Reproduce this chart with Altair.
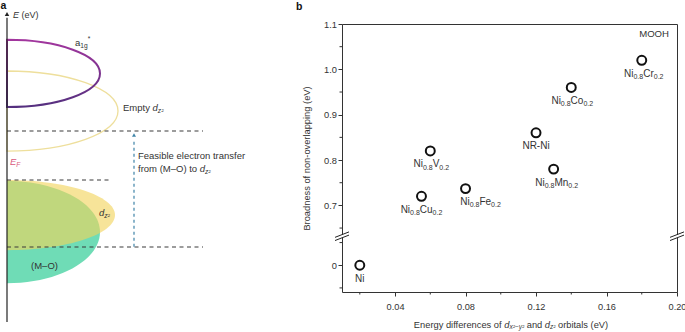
import altair as alt
import pandas as pd

FONT = "Liberation Sans"
TXT = "#333333"

# ---------------- panel b data ----------------
sample_labels = ["Ni", "Ni_{0.8}Cu_{0.2}", "Ni_{0.8}V_{0.2}", "Ni_{0.8}Fe_{0.2}",
                 "NR-Ni", "Ni_{0.8}Mn_{0.2}", "Ni_{0.8}Co_{0.2}", "Ni_{0.8}Cr_{0.2}"]
energy_diff = [0.020, 0.055, 0.060, 0.080, 0.120, 0.130, 0.140, 0.180]
broadness = [0.0, 0.72, 0.82, 0.737, 0.86, 0.78, 0.96, 1.02]
label_shift = [0, 0, 1, 15, 0, 3, 1, 2]

x_ticks = [0.04, 0.08, 0.12, 0.16, 0.20]
x_minor = [0.02, 0.06, 0.10, 0.14, 0.18]
y_ticks_upper = [0.7, 0.8, 0.9, 1.0, 1.1]
y_minor_upper = [0.65, 0.75, 0.85, 0.95, 1.05]
y_ticks_lower = [0.0]
y_minor_lower = [-0.05, 0.05]

XMIN, XMAX = 0.0099, 0.20
YMIN, YMAX = 0.509, 1.1
LOWER_BASE = 0.568   # display position of the lower (broken) segment's zero
BREAK_AT = 0.632
UPPER_START = 0.6

x_title = "Energy differences of $d_{x²−y²}$ and $d_{z²}$ orbitals (eV)"
y_title = "Broadness of non-overlapping (eV)"

# ---------------- panel a data (schematic) ----------------
# x: distance from energy axis (px units), E: energy (arbitrary units)
band_names = ["M–O", "occupied dz2", "empty dz2", "a1g*"]
band_E = [2.92, 3.47, 6.85, 8.07]
band_half_E = [1.66, 1.14, 1.30, 1.09]
band_half_x = [93, 108, 111, 93]

level_E = [6.20, 4.61, 2.435]
level_end = [196, 103, 196]
arrow_x = [127]
arrow_E = [2.44, 6.07]

a_texts = ["a_{1g}^{*}", "Empty $d_{z²}$", "Feasible electron transfer",
           "from (M–O) to $d_{z²}$", "$E_{F}$", "$d_{z²}$", "(M–O)", "$E$ (eV)"]
a_text_x = [68, 116, 131, 131, 3, 92, 37.5, 6]
a_text_E = [9.06, 6.95, 5.39, 4.97, 5.18, 3.54, 1.82, 9.97]

W, H = 335, 268
AX_RANGE = [-335, 0]
AY_RANGE = [298, -10]
A_XDOM = [0, 335]
A_EDOM = [0, 10]
PX_PER_E = (AY_RANGE[0] - AY_RANGE[1]) / (A_EDOM[1] - A_EDOM[0])

# ---------------- rich text helpers ----------------
CW = {' ': 278, '(': 333, ')': 333, '-': 333, '.': 278, '*': 389, '²': 333, '−': 584,
      '–': 556, 'A': 667, 'B': 667, 'C': 722, 'D': 722, 'E': 667, 'F': 611, 'H': 722,
      'M': 833, 'N': 722, 'O': 778, 'R': 722, 'V': 667, 'a': 556, 'b': 556, 'c': 500,
      'd': 556, 'e': 556, 'f': 278, 'g': 556, 'h': 556, 'i': 222, 'l': 222, 'n': 556,
      'o': 556, 'p': 556, 'r': 333, 's': 500, 't': 278, 'u': 556, 'v': 500, 'x': 500,
      'y': 500, 'z': 500, 'm': 833, 'k': 500}


def tw(s, fs):
    return sum(CW.get(c, 556) for c in s) * fs / 1000.0


def parse(s):
    parts, italic, i, buf = [], False, 0, ""
    while i < len(s):
        c = s[i]
        if c == '$':
            if buf:
                parts.append((buf, italic, 'n'))
                buf = ""
            italic = not italic
            i += 1
        elif c in '_^' and i + 1 < len(s) and s[i + 1] == '{':
            if buf:
                parts.append((buf, italic, 'n'))
                buf = ""
            j = s.index('}', i)
            parts.append((s[i + 2:j], italic, 'sub' if c == '_' else 'sup'))
            i = j + 1
        else:
            buf += c
            i += 1
    if buf:
        parts.append((buf, italic, 'n'))
    return parts


def rich(s, x, y, fs, align="left", dx=0, dy=0, col=TXT, weight="normal"):
    parts = parse(s)
    rows, off = [], 0.0
    for txt, ital, kind in parts:
        f = fs if kind == 'n' else fs * 0.7
        ddy = 0 if kind == 'n' else (fs * 0.32 if kind == 'sub' else -fs * 0.38)
        lead = len(txt) - len(txt.lstrip(' '))
        off += tw(' ' * lead, f)
        body = txt.lstrip(' ')
        rows.append(dict(x=x, y=y, text=body, off=off, dy=dy + ddy, fs=f,
                         fst="italic" if ital else "normal", fw=weight, col=col))
        off += tw(body, f)
    shift = {"left": 0, "center": -off / 2, "right": -off}[align]
    for r in rows:
        r["dx"] = r.pop("off") + shift + dx
    return rows


def text_layer(rows, xenc, yenc):
    return alt.Chart(pd.DataFrame(rows)).mark_text(
        align="left", baseline="middle", font=FONT,
        dx=alt.ExprRef(expr="datum.dx"), dy=alt.ExprRef(expr="datum.dy"),
        fontSize=alt.ExprRef(expr="datum.fs"), fontStyle=alt.ExprRef(expr="datum.fst"),
        fontWeight=alt.ExprRef(expr="datum.fw"), fill=alt.ExprRef(expr="datum.col"),
    ).encode(x=xenc, y=yenc, text="text:N")


def half_ellipse(r):
    k = 0.5523
    return (f"M0,{-r:.4f} C{k:.4f},{-r:.4f} 1,{-k * r:.4f} 1,0 "
            f"C1,{k * r:.4f} {k:.4f},{r:.4f} 0,{r:.4f} Z")


# ---------------- panel a ----------------
SAX = alt.Scale(domain=A_XDOM, range=AX_RANGE, zero=False, nice=False)
SAY = alt.Scale(domain=A_EDOM, range=AY_RANGE, zero=False, nice=False)
ax = lambda f="x": alt.X(f"{f}:Q", scale=SAX, axis=None)
ay = lambda f="E": alt.Y(f"{f}:Q", scale=SAY, axis=None)

band_style = {
    "M–O": dict(filled=True, fill="#6fdcb6", strokeWidth=0),
    "occupied dz2": dict(filled=True, fill="#f2d45a", fillOpacity=0.62, strokeWidth=0),
    "empty dz2": dict(filled=False, stroke="#eedf9c", strokeWidth=1.3),
    "a1g*": dict(filled=False, strokeWidth=2,
                 stroke=alt.Gradient(gradient="linear", x1=0, y1=0, x2=0, y2=1,
                                     stops=[alt.GradientStop(offset=0, color="#a2369e"),
                                            alt.GradientStop(offset=1, color="#55307f")])),
}
a_layers = []
for name, e, he, hx in zip(band_names, band_E, band_half_E, band_half_x):
    r = he * PX_PER_E / hx
    a_layers.append(
        alt.Chart(pd.DataFrame({"x": [0], "E": [e]})).mark_point(
            shape=half_ellipse(r), size=(2 * hx) ** 2, opacity=1, **band_style[name]
        ).encode(x=ax(), y=ay())
    )

lev = pd.DataFrame({"x": [0] * len(level_E), "x2": level_end, "E": level_E})
a_layers.append(alt.Chart(lev).mark_rule(color="#3a3a3a", strokeWidth=1.1, strokeDash=[4, 3.5])
                .encode(x=ax(), x2="x2:Q", y=ay()))

arr = pd.DataFrame({"x": arrow_x, "E": [arrow_E[0]], "E2": [arrow_E[1] - 0.12]})
a_layers.append(alt.Chart(arr).mark_rule(color="#3f84a8", strokeWidth=1.2, strokeDash=[3, 3])
                .encode(x=ax(), y=ay(), y2="E2:Q"))
a_layers.append(alt.Chart(pd.DataFrame({"x": arrow_x, "E": [arrow_E[1]]}))
                .mark_point(shape="triangle-up", size=16, filled=True, color="#3f84a8", opacity=1)
                .encode(x=ax(), y=ay()))

axis_df = pd.DataFrame({"x": [0], "E": [A_EDOM[0]], "E2": [A_EDOM[1] - 0.12]})
a_layers.append(alt.Chart(axis_df).mark_rule(color="#222", strokeWidth=1.2)
                .encode(x=ax(), y=ay(), y2="E2:Q"))
a_layers.append(alt.Chart(pd.DataFrame({"x": [0], "E": [A_EDOM[1]]}))
                .mark_point(shape="triangle-up", size=20, filled=True, color="#222", opacity=1)
                .encode(x=ax(), y=ay()))

a_rows = []
for t, x, e in zip(a_texts, a_text_x, a_text_E):
    col = "#d9587a" if t.startswith("$E_") else TXT
    fs = 9 if t.startswith("$E$") else 9.5
    a_rows += rich(t, x, e, fs, align="center" if t == "(M–O)" else "left", col=col)
a_rows += rich("a", 0, A_EDOM[1], 10.5, dx=-6.5, dy=-8, col="#111", weight="bold")
a_layers.append(text_layer(a_rows, ax("x"), ay("y")))

panel_a = alt.layer(*a_layers)

# ---------------- panel b ----------------
SBX = alt.Scale(domain=[XMIN, XMAX], zero=False, nice=False)
SBY = alt.Scale(domain=[YMIN, YMAX], zero=False, nice=False)


def disp(v):
    return v if v >= UPPER_START else LOWER_BASE + v


pts = pd.DataFrame({"x": energy_diff, "y": [disp(v) for v in broadness]})
y_tick_vals = [disp(v) for v in y_ticks_lower] + y_ticks_upper
y_minor_vals = [LOWER_BASE + v for v in y_minor_lower] + y_minor_upper

xenc = alt.X("x:Q", scale=SBX, axis=alt.Axis(
    values=x_ticks, format=".2f", title=None, domain=False, grid=False, tickSize=4,
    labelFontSize=9.2, labelPadding=6, labelFlush=False, labelOverlap=False))
yenc = alt.Y("y:Q", scale=SBY, axis=alt.Axis(
    values=y_tick_vals, labelExpr=f"datum.value < {UPPER_START} ? '0' : format(datum.value, '.1f')",
    title=y_title, titleFontSize=9.3, titleFontWeight="normal", titlePadding=12,
    domain=False, grid=False, tickSize=4, labelFontSize=9.3, labelPadding=1.5,
    labelOverlap=False))

points = alt.Chart(pts).mark_point(size=80, strokeWidth=2, color="#111", opacity=1,
                                   filled=False).encode(x=xenc, y=yenc)

bx = alt.X("x:Q", scale=SBX)
by = alt.Y("y:Q", scale=SBY)

ymin_df = pd.DataFrame({"y": y_minor_vals})
yminor = alt.Chart(ymin_df).mark_rule(color=TXT, x2Offset=-2.5).encode(
    y=by, x=alt.datum(XMIN), x2=alt.datum(XMIN))
xmin_df = pd.DataFrame({"x": x_minor})
xminor = alt.Chart(xmin_df).mark_rule(color=TXT, y2Offset=2.5).encode(
    x=bx, y=alt.datum(YMIN), y2=alt.datum(YMIN))

# axis-break marks on both sides
brk_layers = []
for xv in [XMIN, XMAX]:
    brk_layers.append(alt.Chart(pd.DataFrame({"y": [BREAK_AT]})).mark_rect(
        color="white", xOffset=-4, x2Offset=4).encode(
        x=alt.datum(xv), x2=alt.datum(xv),
        y=alt.datum(BREAK_AT + 0.0035), y2=alt.datum(BREAK_AT - 0.0035)))
    for s in [1, -1]:
        yc = BREAK_AT + s * 0.0035
        brk_layers.append(alt.Chart(pd.DataFrame({"y": [yc]})).mark_rule(
            color="#222", strokeWidth=1, xOffset=-7, x2Offset=7).encode(
            x=alt.datum(xv), x2=alt.datum(xv),
            y=alt.datum(yc - 0.006), y2=alt.datum(yc + 0.006)))

b_rows = []
for lab, xv, yv, sh in zip(sample_labels, energy_diff, broadness, label_shift):
    b_rows += rich(lab, xv, disp(yv), 10, align="center", dx=sh, dy=13.5)
b_rows += rich("MOOH", XMAX, YMAX, 9.6, align="right", dx=-8, dy=9.5)
b_rows += rich(x_title, (XMIN + XMAX) / 2, YMIN, 9.3, align="center", dx=1.5, dy=32.5)
b_rows += rich("b", XMIN, YMAX, 10.5, dx=-46, dy=-17, col="#111", weight="bold")
b_text = text_layer(b_rows, bx, by)

panel_b = alt.layer(points, yminor, xminor, *brk_layers, b_text)

chart = alt.layer(panel_a, panel_b).resolve_scale(
    x="independent", y="independent"
).properties(
    width=W, height=H,
    autosize=alt.AutoSizeParams(type="none"),
    padding={"left": 342, "top": 24, "right": 8, "bottom": 40},
    background="white",
).configure_view(stroke="#333", strokeWidth=1).configure_axis(
    labelFont=FONT, titleFont=FONT, labelColor=TXT, titleColor=TXT,
    tickColor=TXT, tickWidth=1)

chart.save("out.html", embed_options={"renderer": "svg", "actions": False})
